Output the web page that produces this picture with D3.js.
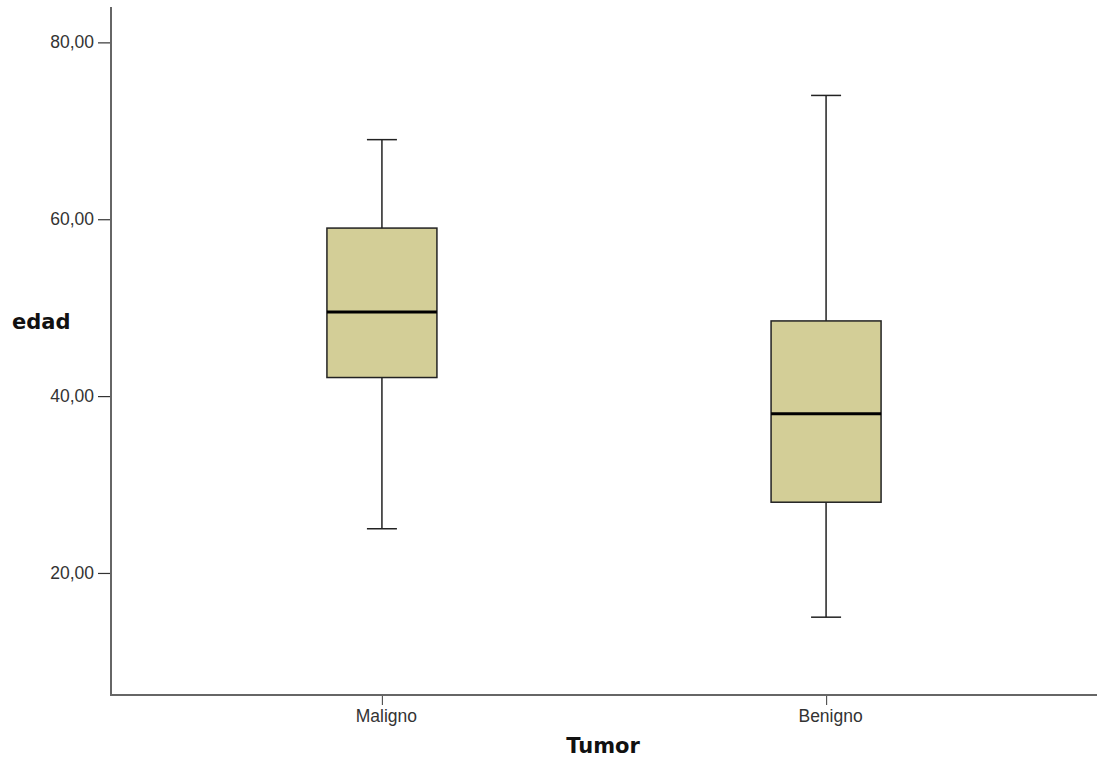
<!DOCTYPE html>
<html>
<head>
<meta charset="utf-8">
<script src="https://cdn.jsdelivr.net/npm/d3@7"></script>
<style>
  body { margin: 0; background: #fff; }
  svg { display: block; font-family: "DejaVu Sans", Verdana, sans-serif; }
</style>
</head>
<body>
<div id="chart"></div>
<script>
// box plot data
const categories = ["Maligno", "Benigno"];
const whiskerLow = [25, 15];
const q1Vals = [42.1, 28];
const medians = [49.5, 38];
const q3Vals = [59, 48.5];
const whiskerHigh = [69, 74];
const yTicks = [20, 40, 60, 80];

const W = 1097, H = 760;
const axisX = 111, axisBottom = 695, axisTop = 7;

const svg = d3.select("#chart").append("svg").attr("width", W).attr("height", H);

const x = d3.scalePoint().domain(categories).range([axisX, W]).padding(0.61);
const y = d3.scaleLinear().domain([6.2, 84]).range([axisBottom, axisTop]);

const data = categories.map((c, i) => ({
  cat: c, lo: whiskerLow[i], q1: q1Vals[i], med: medians[i], q3: q3Vals[i], hi: whiskerHigh[i]
}));

const boxW = 110, capW = 30;

// y axis
const yAxis = d3.axisLeft(y).tickValues(yTicks).tickSize(13).tickPadding(4)
  .tickFormat(d => d3.format(".2f")(d).replace(".", ","));
const gy = svg.append("g").attr("transform", `translate(${axisX},0)`).call(yAxis);
gy.select(".domain").remove();
gy.selectAll(".tick line").attr("stroke", "#333").attr("stroke-width", 1.2);
gy.selectAll(".tick text").attr("fill", "#333").style("font-size", "17.5px");

// x axis
const xAxis = d3.axisBottom(x).tickSize(10).tickPadding(5);
const gx = svg.append("g").attr("transform", `translate(0,${axisBottom})`).call(xAxis);
gx.select(".domain").remove();
gx.selectAll(".tick line").attr("stroke", "#555").attr("stroke-width", 1.2);
gx.selectAll(".tick text").attr("fill", "#333").style("font-size", "17.5px").attr("dx", "4px");

// axis lines
svg.append("line").attr("x1", axisX).attr("x2", axisX).attr("y1", axisTop).attr("y2", axisBottom + 1)
  .attr("stroke", "#666").attr("stroke-width", 2);
svg.append("line").attr("x1", axisX).attr("x2", W).attr("y1", axisBottom).attr("y2", axisBottom)
  .attr("stroke", "#666").attr("stroke-width", 2);

// boxes
const g = svg.append("g").selectAll("g").data(data).join("g");

g.append("line") // whisker
  .attr("x1", d => x(d.cat)).attr("x2", d => x(d.cat))
  .attr("y1", d => y(d.lo)).attr("y2", d => y(d.hi))
  .attr("stroke", "#222").attr("stroke-width", 1.5);
g.append("line")
  .attr("x1", d => x(d.cat) - capW / 2).attr("x2", d => x(d.cat) + capW / 2)
  .attr("y1", d => y(d.hi)).attr("y2", d => y(d.hi))
  .attr("stroke", "#222").attr("stroke-width", 1.5);
g.append("line")
  .attr("x1", d => x(d.cat) - capW / 2).attr("x2", d => x(d.cat) + capW / 2)
  .attr("y1", d => y(d.lo)).attr("y2", d => y(d.lo))
  .attr("stroke", "#222").attr("stroke-width", 1.5);
g.append("rect")
  .attr("x", d => x(d.cat) - boxW / 2).attr("width", boxW)
  .attr("y", d => y(d.q3)).attr("height", d => y(d.q1) - y(d.q3))
  .attr("fill", "#d3ce97").attr("stroke", "#222").attr("stroke-width", 1.5);
g.append("line")
  .attr("x1", d => x(d.cat) - boxW / 2).attr("x2", d => x(d.cat) + boxW / 2)
  .attr("y1", d => y(d.med)).attr("y2", d => y(d.med))
  .attr("stroke", "#000").attr("stroke-width", 3);

// titles
svg.append("text").attr("x", 12).attr("y", 329).text("edad")
  .style("font-size", "21px").style("font-weight", "bold").attr("fill", "#111");
svg.append("text").attr("x", 603).attr("y", 753).attr("text-anchor", "middle").text("Tumor")
  .style("font-size", "21px").style("font-weight", "bold").attr("fill", "#111");
</script>
</body>
</html>
